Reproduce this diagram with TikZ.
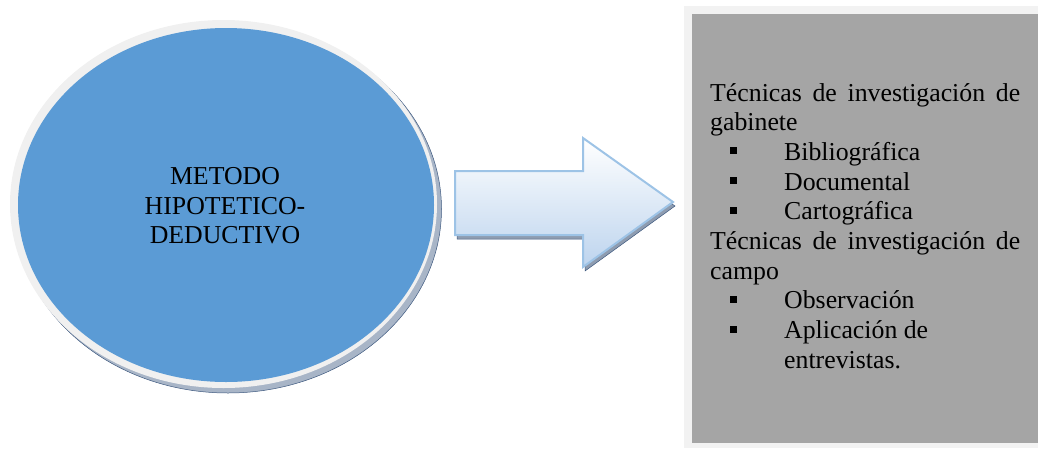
\documentclass[tikz,border=0pt]{standalone}
\usepackage{fontspec}
\setmainfont{Liberation Serif}
\definecolor{ovalblue}{HTML}{5B9BD5}
\definecolor{ringgrey}{HTML}{F0F0F0}
\definecolor{shadowfill}{HTML}{A8B5C7}
\definecolor{shadowline}{HTML}{3F5A80}
\definecolor{arrowshadow}{HTML}{8E9CB0}
\definecolor{arrowedge}{HTML}{9DC3E6}
\definecolor{arrowlow}{HTML}{BDD4EE}
\definecolor{panelouter}{HTML}{F2F2F2}
\definecolor{panelinner}{HTML}{A5A5A5}
\newcommand{\itembullet}{\makebox[74pt][l]{\hspace{20pt}\rule[6pt]{7pt}{7pt}}}
\tikzset{
  bodytext/.style={inner sep=0pt, font=\fontsize{25.8}{29.7}\selectfont, text=black},
  dropshadow/.style={fill=shadowfill, draw=shadowline, line width=0.5pt}
}
\begin{document}
\begin{tikzpicture}[x=1pt,y=-1pt]
\useasboundingbox (0,0) rectangle (1038,448);

% oval: drop shadow, light rim, blue face
\path[dropshadow] (228,209) ellipse [x radius=213.5, y radius=184];
\fill[ringgrey] (223.5,204) ellipse [x radius=213.5, y radius=184];
\fill[ovalblue] (226,205) ellipse [x radius=208, y radius=177];
\node[bodytext, anchor=base] (metodo) at (225,184.5)
  {\vtop{\halign{\hfil#\hfil\cr METODO\cr HIPOTETICO-\cr DEDUCTIVO\cr}}};

% block arrow with its shadow
\path[dropshadow, fill=arrowshadow, shift={(2,4)}]
  (455,171) -- (583,171) -- (583,138) -- (673,202) -- (583,267) -- (583,235) -- (455,235) -- cycle;
\path[top color=white, bottom color=arrowlow, draw=arrowedge, line width=2pt, line join=miter]
  (455,171) -- (583,171) -- (583,138) -- (673,202) -- (583,267) -- (583,235) -- (455,235) -- cycle;

% grey panel with the list of techniques
\fill[panelouter] (684,6) rectangle (1038,448);
\fill[panelinner] (692,14) rectangle (1038,443);
\node[bodytext, anchor=base west] (tecnicas) at (710,101) {\vtop{\hsize=310pt
  \hbox to\hsize{Técnicas\hfill de\hfill investigación\hfill de}
  \hbox{gabinete}
  \hbox{\itembullet Bibliográfica}
  \hbox{\itembullet Documental}
  \hbox{\itembullet Cartográfica}
  \hbox to\hsize{Técnicas\hfill de\hfill investigación\hfill de}
  \hbox{campo}
  \hbox{\itembullet Observación}
  \hbox{\itembullet Aplicación de}
  \hbox{\hspace*{74pt}entrevistas.}}};
\end{tikzpicture}
\end{document}
